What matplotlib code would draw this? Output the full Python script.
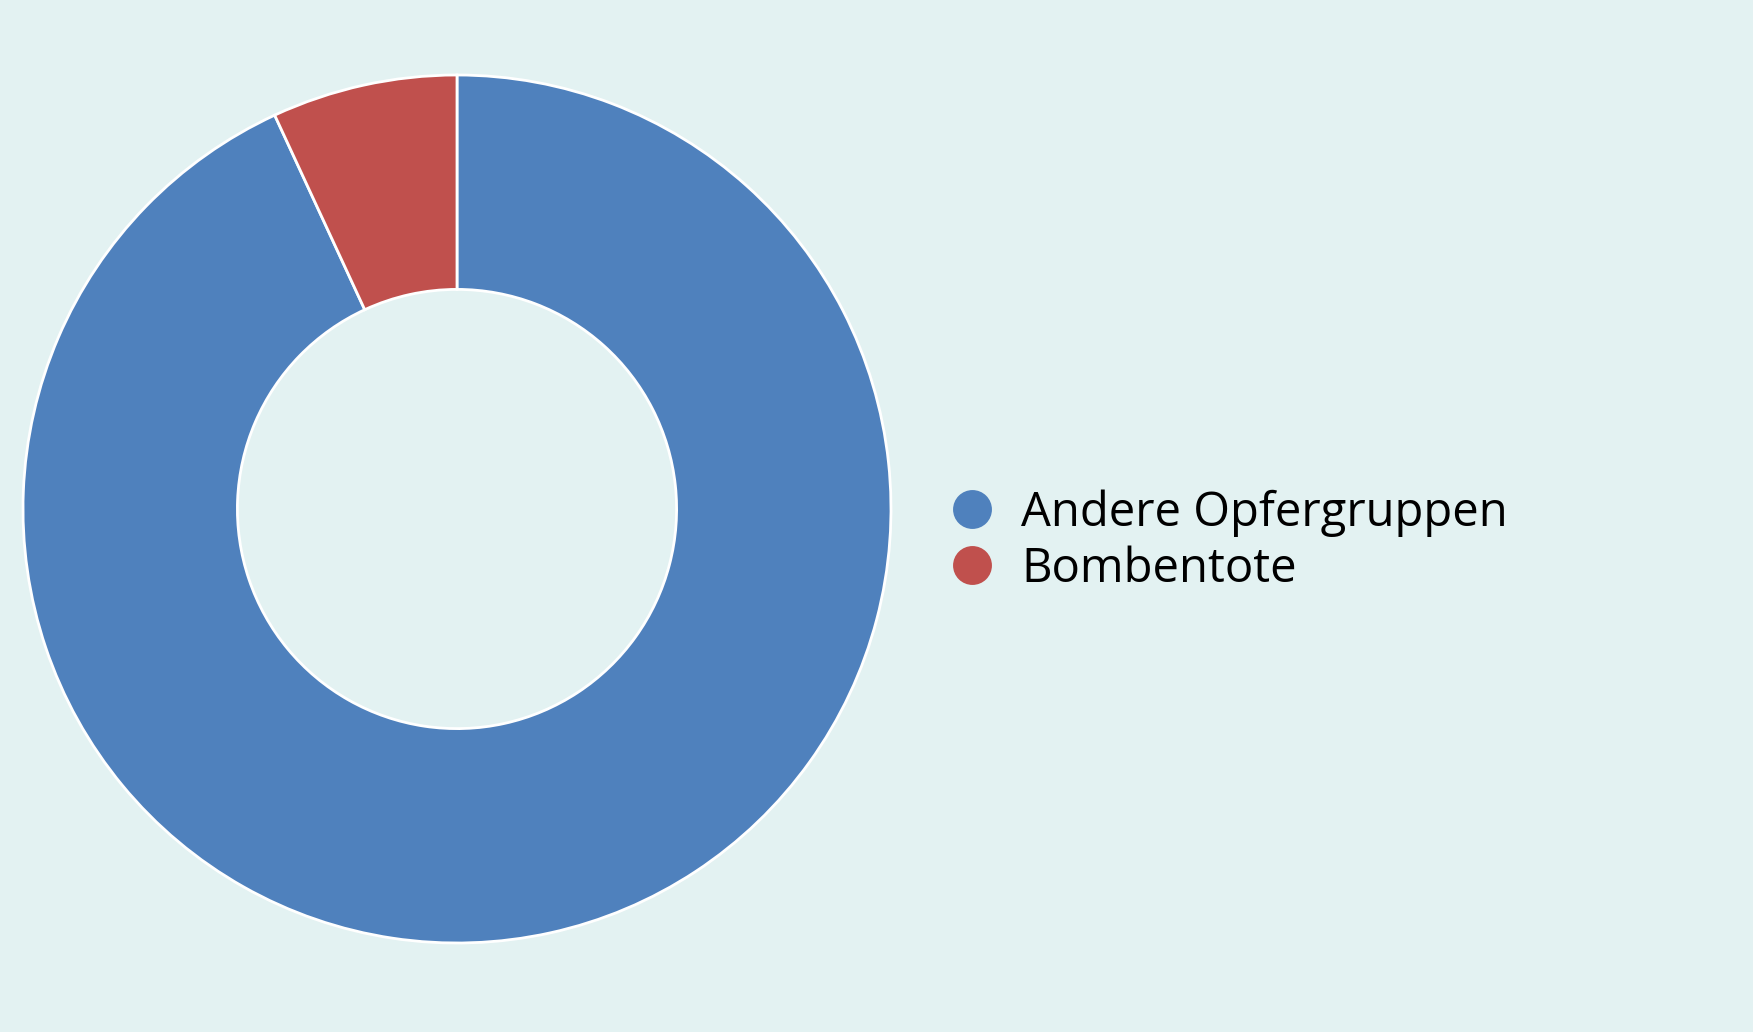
import matplotlib.pyplot as plt
from matplotlib.lines import Line2D

labels = ["Andere Opfergruppen", "Bombentote"]
values = [93.1, 6.9]
colors = ["#4f81bd", "#c0504d"]
bg = "#e3f2f2"

plt.rcParams['font.family'] = ['Open Sans', 'DejaVu Sans']

fig = plt.figure(figsize=(17.53, 10.32), dpi=100, facecolor=bg)
W, H = 1753, 1032
cx, cy, r = 457, 509, 434
ax = fig.add_axes([(cx - r) / W, (H - cy - r) / H, 2 * r / W, 2 * r / H])
ax.set_facecolor(bg)
ax.pie(values, colors=colors, startangle=90, counterclock=False, radius=1,
       wedgeprops=dict(width=0.494, edgecolor="white", linewidth=2))
ax.set_xlim(-1, 1)
ax.set_ylim(-1, 1)
ax.set_aspect("equal")
ax.axis("off")

handles = [Line2D([], [], marker="o", linestyle="none", markersize=28,
                  markerfacecolor=c, markeredgecolor="none") for c in colors]
fig.legend(handles, labels, loc="center left", bbox_to_anchor=(929 / W, 1 - 541 / H),
           frameon=False, fontsize=34, handletextpad=0.55, labelspacing=0.18,
           borderaxespad=0, handlelength=1.0)

fig.savefig("out.png", dpi=100, facecolor=bg)
